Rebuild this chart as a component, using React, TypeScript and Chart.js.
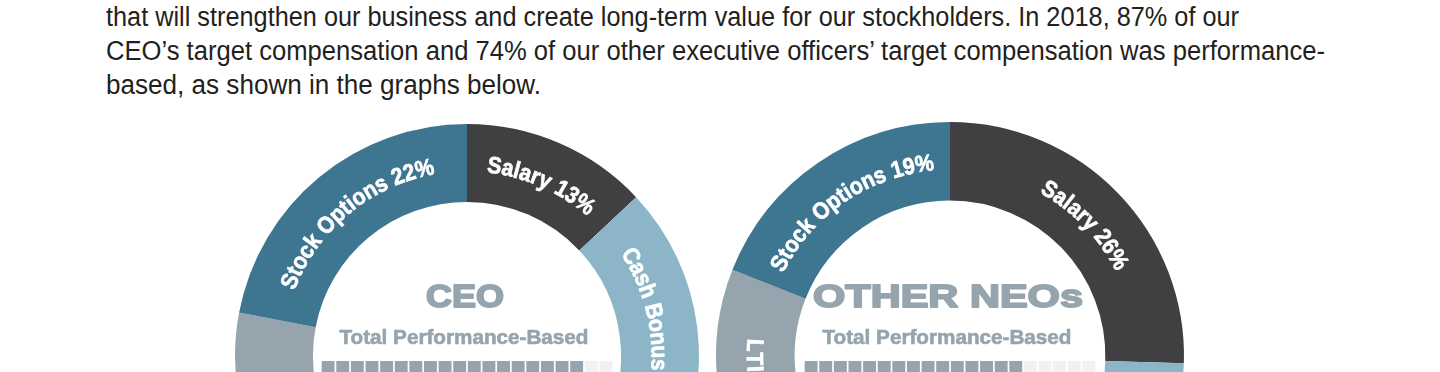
import React, { useEffect, useLayoutEffect, useRef } from 'react';
import { Chart, registerables } from 'chart.js';

Chart.register(...registerables);

// ---------- text ----------
const paragraphLines = [
  'that will strengthen our business and create long-term value for our stockholders. In 2018, 87% of our',
  'CEO\u2019s target compensation and 74% of our other executive officers\u2019 target compensation was performance-',
  'based, as shown in the graphs below.',
];
const paragraphLineWidths = [1133, 1219, 435];

// ---------- data ----------
const ceoCategories = ['Salary', 'Cash Bonus', 'LTI', 'Stock Options'];
const ceoValues = [13, 20, 45, 22];
const ceoTitle = 'CEO';
const ceoPerformanceBased = 87;

const neoCategories = ['Salary', 'Cash Bonus', 'LTI', 'Stock Options'];
const neoValues = [25.5, 39.5, 16, 19];
const neoTitle = 'OTHER NEOs';
const neoPerformanceBased = 74;

const subtitleText = 'Total Performance-Based';
const waffleColumns = 20;
const waffleRows = 5;

// ---------- style ----------
const segmentColors = ['#404042', '#8cb6c8', '#95a4ad', '#3e7590'];
const greyText = '#95a4ad';
const waffleOn = '#95a4ad';
const waffleOff = '#f1f1f1';
const CANVAS = 500;

function drawArcText(
  ctx: CanvasRenderingContext2D,
  text: string,
  cx: number,
  cy: number,
  r: number,
  center: number,
  clockwise: boolean,
  capH: number,
  spacing: number,
  squeeze: number
) {
  const chars = Array.from(text);
  const widths = chars.map((c) => ctx.measureText(c).width * squeeze);
  const total = widths.reduce((s, w) => s + w, 0) + spacing * (chars.length - 1);
  const span = total / r;
  let a = clockwise ? center - span / 2 : center + span / 2;
  chars.forEach((ch, i) => {
    const w = widths[i];
    const ang = clockwise ? a + w / 2 / r : a - w / 2 / r;
    ctx.save();
    ctx.translate(cx, cy);
    if (clockwise) {
      ctx.rotate(ang + Math.PI / 2);
      ctx.translate(0, -(r - capH / 2));
    } else {
      ctx.rotate(ang - Math.PI / 2);
      ctx.translate(0, r + capH / 2);
    }
    ctx.scale(squeeze, 1);
    ctx.strokeText(ch, 0, 0);
    ctx.fillText(ch, 0, 0);
    ctx.restore();
    const step = (w + spacing) / r;
    a = clockwise ? a + step : a - step;
  });
}

const donutDecor = {
  id: 'donutDecor',
  afterDatasetsDraw(chart: any, _args: any, opts: any) {
    const ctx: CanvasRenderingContext2D = chart.ctx;
    const meta = chart.getDatasetMeta(0);
    const labels = chart.data.labels as string[];
    const values = chart.data.datasets[0].data as number[];
    let cx = 0;
    let cy = 0;
    ctx.save();
    ctx.fillStyle = '#ffffff';
    ctx.strokeStyle = '#ffffff';
    ctx.lineWidth = 0.7;
    ctx.lineJoin = 'round';
    ctx.font = 'bold 23.5px "Liberation Sans", Arial, sans-serif';
    ctx.textAlign = 'center';
    ctx.textBaseline = 'alphabetic';
    meta.data.forEach((arc: any, i: number) => {
      const p = arc.getProps(['x', 'y', 'startAngle', 'endAngle', 'innerRadius', 'outerRadius'], true);
      cx = p.x;
      cy = p.y;
      const mid = (p.startAngle + p.endAngle) / 2;
      const norm = ((mid % (2 * Math.PI)) + 2 * Math.PI) % (2 * Math.PI);
      const bottom = norm > 0.02 && norm < Math.PI - 0.02;
      const rMid = (p.innerRadius + p.outerRadius) / 2;
      const text = `${labels[i]} ${Math.round(values[i])}%`;
      drawArcText(ctx, text, p.x, p.y, rMid, mid, !bottom, 16.8, 0.5, 0.9);
    });
    ctx.restore();

    // centre title
    ctx.save();
    ctx.fillStyle = greyText;
    ctx.strokeStyle = greyText;
    ctx.lineWidth = 1.8;
    ctx.lineJoin = 'round';
    ctx.textAlign = 'center';
    ctx.textBaseline = 'alphabetic';
    ctx.font = 'bold 32px "Liberation Sans", Arial, sans-serif';
    const tw = ctx.measureText(opts.title).width;
    ctx.translate(cx - 2, cy - 49);
    ctx.scale((opts.titleWidth - 2) / tw, 1);
    ctx.strokeText(opts.title, 0, 0);
    ctx.fillText(opts.title, 0, 0);
    ctx.restore();

    ctx.save();
    ctx.fillStyle = greyText;
    ctx.strokeStyle = greyText;
    ctx.lineWidth = 0.6;
    ctx.textAlign = 'center';
    ctx.textBaseline = 'alphabetic';
    ctx.font = 'bold 20.5px "Liberation Sans", Arial, sans-serif';
    const sw = ctx.measureText(opts.subtitle).width;
    ctx.translate(cx - 3, cy - 12.5);
    ctx.scale(249 / sw, 1);
    ctx.strokeText(opts.subtitle, 0, 0);
    ctx.fillText(opts.subtitle, 0, 0);
    ctx.restore();

    // waffle (columns filled top to bottom, left to right)
    const pitch = 14.62;
    const cell = 12.9;
    const left = cx - (waffleColumns * pitch - (pitch - cell)) / 2;
    const top = cy + 5;
    ctx.save();
    for (let c = 0; c < waffleColumns; c++) {
      for (let r = 0; r < waffleRows; r++) {
        const idx = c * waffleRows + r;
        ctx.fillStyle = idx < opts.performance ? waffleOn : waffleOff;
        ctx.fillRect(left + c * pitch, top + r * pitch, cell, cell);
      }
    }
    ctx.restore();
  },
};

interface DonutProps {
  cx: number;
  cy: number;
  outer: number;
  inner: number;
  categories: string[];
  values: number[];
  title: string;
  titleWidth: number;
  performance: number;
}

function Donut({ cx, cy, outer, inner, categories, values, title, titleWidth, performance }: DonutProps) {
  const ref = useRef<HTMLCanvasElement>(null);
  useEffect(() => {
    if (!ref.current) return;
    const chart = new Chart(ref.current, {
      type: 'doughnut',
      data: {
        labels: categories,
        datasets: [{ data: values, backgroundColor: segmentColors, borderWidth: 0 }],
      },
      options: {
        animation: false,
        responsive: false,
        maintainAspectRatio: false,
        devicePixelRatio: 1,
        events: [],
        radius: outer,
        cutout: inner,
        rotation: 0,
        layout: { padding: 0 },
        plugins: {
          legend: { display: false },
          tooltip: { enabled: false },
          donutDecor: { title, titleWidth, performance, subtitle: subtitleText },
        },
      } as any,
      plugins: [donutDecor as any],
    });
    return () => chart.destroy();
  }, []);
  return (
    <canvas
      ref={ref}
      width={CANVAS}
      height={CANVAS}
      style={{
        position: 'absolute',
        left: cx - CANVAS / 2,
        top: cy - CANVAS / 2,
        width: CANVAS,
        height: CANVAS,
      }}
    />
  );
}

function ParagraphLine({ text, top, width }: { text: string; top: number; width: number }) {
  const ref = useRef<HTMLSpanElement>(null);
  useLayoutEffect(() => {
    const el = ref.current;
    if (!el) return;
    el.style.transform = 'none';
    const w = el.getBoundingClientRect().width;
    if (w > 0) el.style.transform = `scaleX(${width / w})`;
  }, [text, width]);
  return (
    <span
      ref={ref}
      style={{
        position: 'absolute',
        left: 106,
        top,
        whiteSpace: 'nowrap',
        transformOrigin: '0 0',
        fontFamily: '"Liberation Sans Narrow", "Liberation Sans", Arial, sans-serif',
        fontSize: 27,
        lineHeight: '27px',
        color: '#231f20',
      }}
    >
      {text}
    </span>
  );
}

export default function App() {
  return (
    <div
      style={{
        position: 'fixed',
        left: 0,
        top: 0,
        width: 1440,
        height: 372,
        overflow: 'hidden',
        background: '#ffffff',
      }}
    >
      {paragraphLines.map((t, i) => (
        <ParagraphLine key={i} text={t} top={4 + i * 34.2} width={paragraphLineWidths[i]} />
      ))}
      <Donut
        cx={467}
        cy={356}
        outer={232}
        inner={166}
        categories={ceoCategories}
        values={ceoValues}
        title={ceoTitle}
        titleWidth={80}
        performance={ceoPerformanceBased}
      />
      <Donut
        cx={950}
        cy={356}
        outer={234}
        inner={166}
        categories={neoCategories}
        values={neoValues}
        title={neoTitle}
        titleWidth={272}
        performance={neoPerformanceBased}
      />
    </div>
  );
}
